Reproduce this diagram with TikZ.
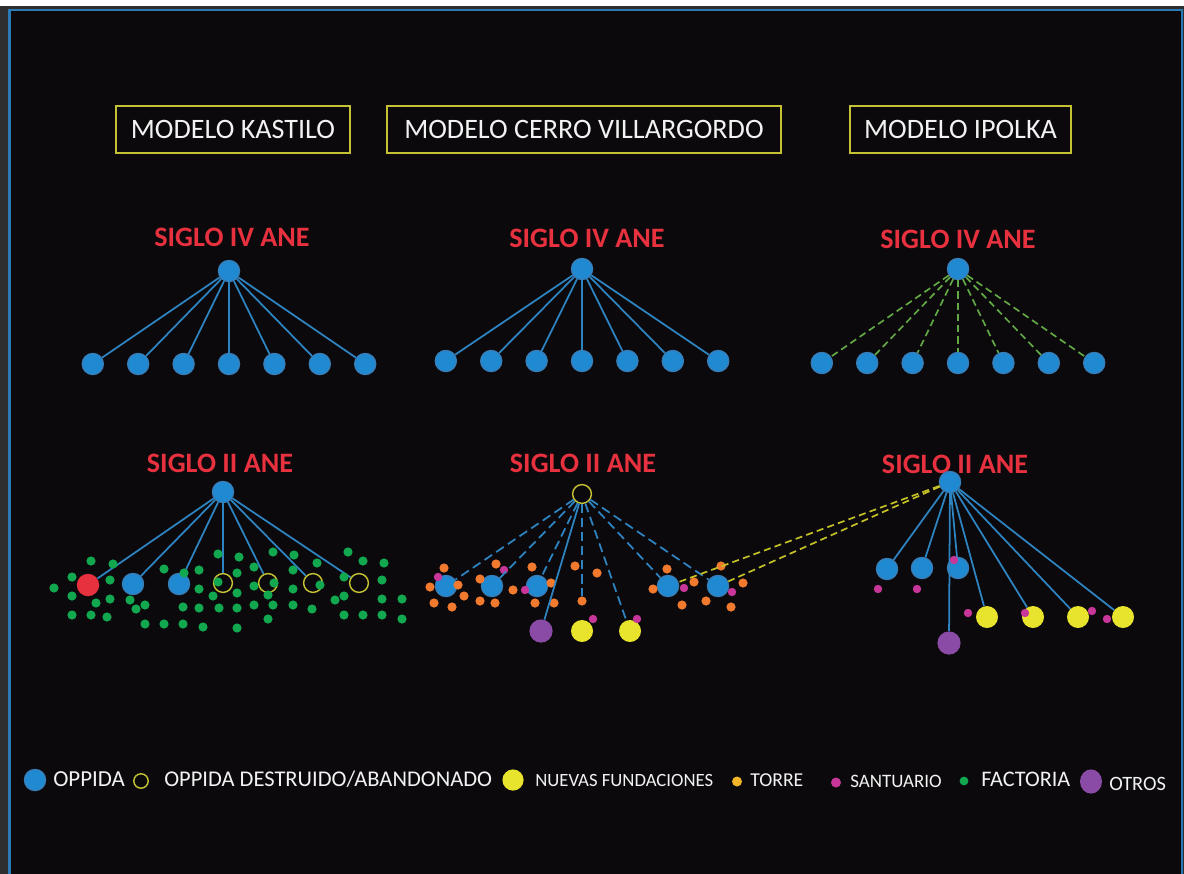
\documentclass[tikz,border=0pt]{standalone}
\usepackage{fontspec}
\setmainfont{Carlito}
\usepackage{xcolor}
\usepackage{tikz}
\definecolor{bgcol}{HTML}{0B090C}
\definecolor{framecol}{HTML}{2E2E30}
\definecolor{bordcol}{HTML}{2A7AB8}
\definecolor{boxcol}{HTML}{C4C232}
\definecolor{siglocol}{HTML}{E8313F}
\definecolor{oppfill}{HTML}{1F8AD2}
\definecolor{oppring}{HTML}{3A7DB6}
\definecolor{linkcol}{HTML}{2E84C0}
\definecolor{ilinkcol}{HTML}{62A844}
\definecolor{factcol}{HTML}{12A850}
\definecolor{nuevacol}{HTML}{E8E42E}
\definecolor{otroscol}{HTML}{8A4BA6}
\definecolor{torrecol}{HTML}{F27A2E}
\definecolor{torrelegcol}{HTML}{F2B428}
\definecolor{santcol}{HTML}{C8369A}
\definecolor{txtcol}{HTML}{F2F2F2}
\tikzset{
  dot/.style={circle, inner sep=0pt},
  opp/.style={dot, fill=oppfill, draw=oppring, line width=0.9pt, minimum size=0.53cm},
  redopp/.style={dot, fill=siglocol, minimum size=0.56cm},
  lost/.style={dot, draw=boxcol, line width=1pt, minimum size=0.47cm},
  nueva/.style={dot, fill=nuevacol, minimum size=0.55cm},
  otros/.style={dot, fill=otroscol, minimum size=0.58cm},
  fact/.style={dot, fill=factcol, minimum size=0.23cm},
  torre/.style={dot, fill=torrecol, minimum size=0.23cm},
  sant/.style={dot, fill=santcol, minimum size=0.21cm},
  link/.style={draw=linkcol, line width=1.25pt},
  dlink/.style={link, dash pattern=on 6.5pt off 3.5pt},
  ilink/.style={draw=ilinkcol, line width=1.2pt, dash pattern=on 5pt off 3pt},
  ylink/.style={draw=nuevacol!85!black, line width=1.2pt, dash pattern=on 5pt off 3pt},
  modelbox/.style={draw=boxcol, line width=1pt, text=txtcol, font=\fontsize{20}{24}\selectfont,
    minimum height=1.175cm, inner sep=0pt},
  siglo/.style={text=siglocol, font=\fontsize{20}{24}\selectfont\bfseries, inner sep=0pt},
  legtxt/.style={text=txtcol, anchor=west, inner sep=0pt}
}
\begin{document}
\begin{tikzpicture}[x=0.025cm, y=-0.025cm]
\useasboundingbox (0,0) rectangle (1184,874);
\fill[white] (0,0) rectangle (1184,874);
\fill[framecol] (0,6) rectangle (1184,874);
\fill[bgcol] (10,11) rectangle (1181,874);
\draw[bordcol, line width=0.05cm] (9.5,874) |- (1181.5,10.5) -- (1181.5,874);

% headings
\node[modelbox, minimum width=5.85cm] (mkastilo) at (233,129.5) {MODELO KASTILO};
\node[modelbox, minimum width=9.85cm] (mcerro) at (584,129.5) {MODELO CERRO VILLARGORDO};
\node[modelbox, minimum width=5.525cm] (mipolka) at (960.5,129.5) {MODELO IPOLKA};
\node[siglo] (k4) at (232,237) {SIGLO IV ANE};
\node[siglo] (c4) at (587,238) {SIGLO IV ANE};
\node[siglo] (i4) at (958,239) {SIGLO IV ANE};
\node[siglo] (k2) at (220,463) {SIGLO II ANE};
\node[siglo] (c2) at (583,463) {SIGLO II ANE};
\node[siglo] (i2) at (955,464) {SIGLO II ANE};

% siglo IV
\foreach \m/\rx/\ry/\cy/\lk in {k/229/271/364/link, c/582/269/361/link, i/958/269/363/ilink} {
  \node[opp] (\m top) at (\rx,\ry) {};
  \foreach \i [count=\n] in {-3,...,3} {
    \node[opp] (\m\n) at (\rx+45.4*\i,\cy) {};
    \draw[\lk] (\m top) -- (\m\n);
  }
}

% siglo II, kastilo
\node[opp] (kroot) at (223,492) {};
\node[redopp] (kr) at (88,585) {};
\node[opp] (kb1) at (133,584) {};
\node[opp] (kb2) at (179,584) {};
\foreach \x [count=\n] in {223,268,313,359}
  \node[lost] (kd\n) at (\x,583) {};
\foreach \t in {kr,kb1,kb2,kd1,kd2,kd3,kd4}
  \draw[link] (kroot) -- (\t);
\foreach \x/\y [count=\n] in {91/561,113/564,72/577,110/580,54/588,72/596,96/603,110/599,
    72/615,91/615,107/617,130/600,136/609,145/605,145/624,164/569,164/624,184/573,183/607,
    183/624,199/570,199/589,199/608,203/627,213/596,218/554,218/582,219/608,239/557,237/573,
    237/593,237/608,237/628,254/567,254/586,254/605,268/595,273/552,274/583,273/605,268/619,
    294/555,293/570,293/589,293/605,312/609,317/563,320/585,335/600,344/577,344/596,344/615,
    348/552,363/561,363/615,384/563,382/580,382/599,382/615,402/599,402/619}
  \node[fact] (kf\n) at (\x,\y) {};

% siglo II, cerro villargordo
\node[lost] (croot) at (582,494) {};
\foreach \x [count=\n] in {446,492,537,668,718}
  \node[opp] (cb\n) at (\x,586) {};
\node[otros] (cx) at (541,631) {};
\node[nueva] (cn1) at (582,631) {};
\node[nueva] (cn2) at (630,631) {};
\foreach \x/\y [count=\n] in {444/568,430/587,458/585,464/596,434/603,452/607,496/564,480/579,
    513/590,480/601,495/603,532/567,551/583,535/603,554/603,575/566,597/573,582/601,667/569,
    653/589,694/582,682/605,721/566,743/583,706/601,731/607}
  \node[torre] (ct\n) at (\x,\y) {};
\foreach \x/\y [count=\n] in {438/577,504/570,525/590,684/588,732/592,593/619,637/619}
  \node[sant] (cs\n) at (\x,\y) {};
\foreach \t in {cb1,cb2,cb3,ct18,cn2,cb4,cb5}
  \draw[dlink] (croot) -- (\t);
\draw[link] (croot) -- (cx);

% siglo II, ipolka
\node[opp] (iroot) at (950,482) {};
\node[opp] (ib1) at (887,569) {};
\node[opp] (ib2) at (922,568) {};
\node[opp] (ib3) at (958,568) {};
\node[otros] (ix) at (949,643) {};
\foreach \x [count=\n] in {987,1033,1078,1123}
  \node[nueva] (in\n) at (\x,617) {};
\foreach \t in {ib1,ib2,ib3,ix,in1,in2,in3,in4}
  \draw[link] (iroot) -- (\t);
\foreach \x/\y [count=\n] in {878/589,917/589,954/560,968/613,1025/613,1092/611,1107/619}
  \node[sant] (is\n) at (\x,\y) {};
\draw[ylink] (iroot) -- (cb4);
\draw[ylink] (iroot) -- (cb5);

% legend
\node[opp] (lopp) at (35,780) {};
\node[legtxt, font=\fontsize{16.3}{19}\selectfont] (loppt) at (53,779) {OPPIDA};
\node[lost, minimum size=0.36cm] (llost) at (141,781) {};
\node[legtxt, font=\fontsize{16}{19}\selectfont] (llostt) at (164,779) {OPPIDA DESTRUIDO/ABANDONADO};
\node[nueva, minimum size=0.53cm] (lnueva) at (513,780) {};
\node[legtxt, font=\fontsize{13.3}{16}\selectfont] (lnuevat) at (535,780) {NUEVAS FUNDACIONES};
\node[dot, fill=torrelegcol, minimum size=0.25cm] (ltorre) at (737,781.5) {};
\node[legtxt, font=\fontsize{14}{17}\selectfont] (ltorret) at (750,780) {TORRE};
\node[sant, minimum size=0.25cm] (lsant) at (836,782.5) {};
\node[legtxt, font=\fontsize{13.5}{16}\selectfont] (lsantt) at (850,781.5) {SANTUARIO};
\node[fact, minimum size=0.22cm] (lfact) at (964,781) {};
\node[legtxt, font=\fontsize{15.8}{19}\selectfont] (lfactt) at (981,779.5) {FACTORIA};
\node[otros, minimum size=0.55cm, yscale=1.1] (lotros) at (1091,781.5) {};
\node[legtxt, font=\fontsize{14.5}{17}\selectfont] (lotrost) at (1109,784) {OTROS};
\end{tikzpicture}
\end{document}
